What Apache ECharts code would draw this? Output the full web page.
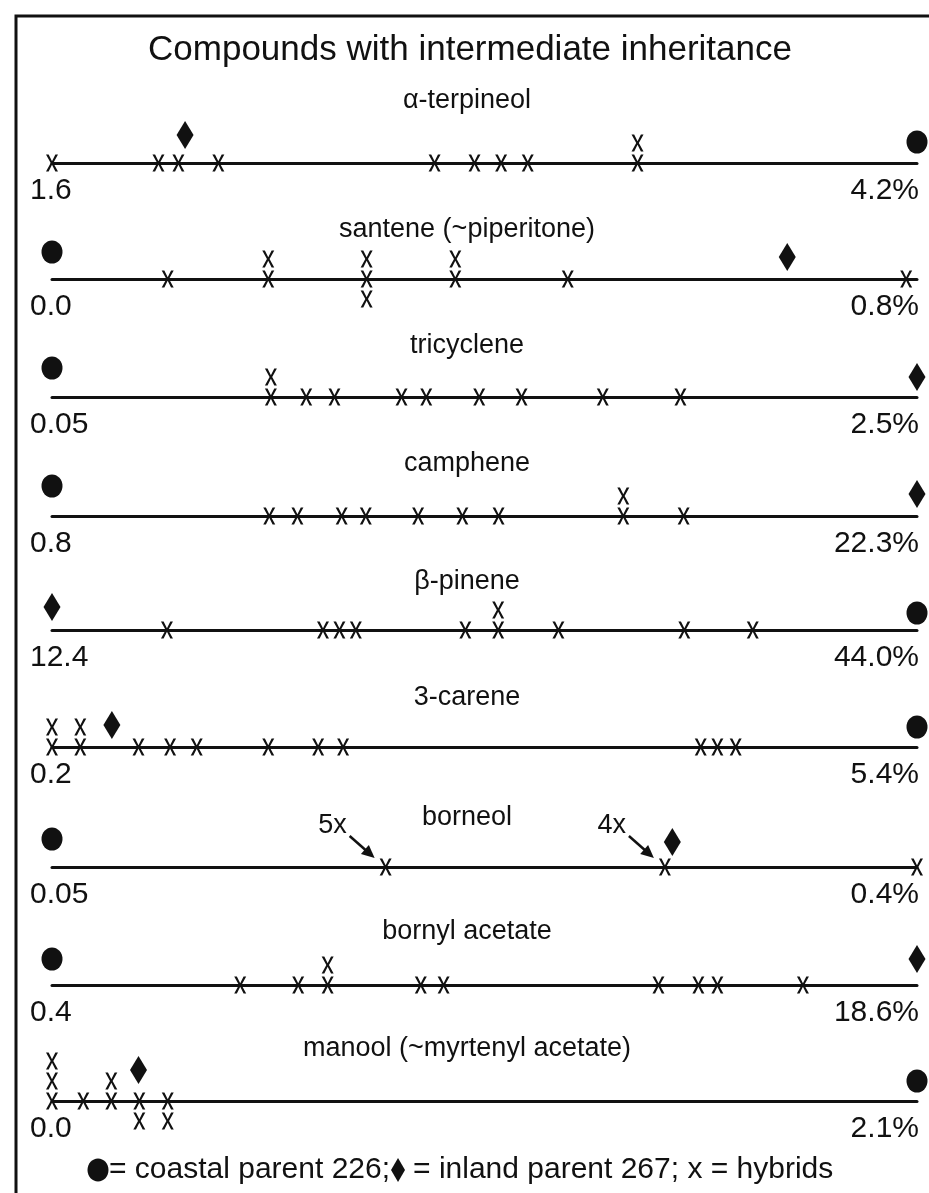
<!DOCTYPE html>
<html lang="en">

<head>
    <meta charset="utf-8">
    <title>intermediate-inheritance</title>
    <script src="https://cdn.jsdelivr.net/npm/echarts@6/dist/echarts.min.js"></script>
    <style>
        html, body { margin: 0; padding: 0; background: #fff; }
        #container { width: 929px; height: 1193px; }
    </style>
</head>

<body>
<div id="container"></div>
<script>
    // one row per compound, top to bottom
    const compounds = ["α-terpineol", "santene (~piperitone)", "tricyclene", "camphene", "β-pinene",
        "3-carene", "borneol", "bornyl acetate", "manool (~myrtenyl acetate)"];
    const axisMin = [1.6, 0.0, 0.05, 0.8, 12.4, 0.2, 0.05, 0.4, 0.0];
    const axisMax = [4.2, 0.8, 2.5, 22.3, 44.0, 5.4, 0.4, 18.6, 2.1];
    const minLabels = ["1.6", "0.0", "0.05", "0.8", "12.4", "0.2", "0.05", "0.4", "0.0"];
    const maxLabels = ["4.2%", "0.8%", "2.5%", "22.3%", "44.0%", "5.4%", "0.4%", "18.6%", "2.1%"];

    // parents: value and height above the line (in stack units)
    const coastalValues = [4.2, 0.0, 0.05, 0.8, 44.0, 5.4, 0.05, 0.4, 2.1];
    const coastalLevels = [1.05, 1.35, 1.45, 1.5, 0.85, 1.0, 1.4, 1.3, 1.0];
    const inlandValues = [2.0, 0.68, 2.5, 22.3, 12.4, 0.56, 0.301, 18.6, 0.21];
    const inlandLevels = [1.4, 1.1, 1.0, 1.1, 1.15, 1.1, 1.25, 1.3, 1.55];

    // hybrids: [value, stack level] (0 = on the line, 1 = one above, -1 = one below)
    const hybrids = [
        [[1.60, 0], [1.92, 0], [1.98, 0], [2.10, 0], [2.75, 0], [2.87, 0], [2.95, 0], [3.03, 0], [3.36, 0], [3.36, 1]],
        [[0.107, 0], [0.200, 0], [0.200, 1], [0.291, 0], [0.291, 1], [0.291, -1], [0.373, 0], [0.373, 1], [0.477, 0], [0.79, 0]],
        [[0.67, 0], [0.67, 1], [0.77, 0], [0.85, 0], [1.04, 0], [1.11, 0], [1.26, 0], [1.38, 0], [1.61, 0], [1.83, 0]],
        [[6.2, 0], [6.9, 0], [8.0, 0], [8.6, 0], [9.9, 0], [11.0, 0], [11.9, 0], [15.0, 0], [15.0, 1], [16.5, 0]],
        [[16.6, 0], [22.3, 0], [22.9, 0], [23.5, 0], [27.5, 0], [28.7, 0], [28.7, 1], [30.9, 0], [35.5, 0], [38.0, 0]],
        [[0.20, 0], [0.20, 1], [0.37, 0], [0.37, 1], [0.72, 0], [0.91, 0], [1.07, 0], [1.50, 0], [1.80, 0], [1.95, 0], [4.10, 0], [4.20, 0], [4.31, 0]],
        [[0.185, 0], [0.298, 0], [0.40, 0]],
        [[4.36, 0], [5.58, 0], [6.20, 0], [6.20, 1], [8.16, 0], [8.64, 0], [13.16, 0], [14.0, 0], [14.4, 0], [16.2, 0]],
        [[0.0, 0], [0.0, 1], [0.0, 2], [0.076, 0], [0.144, 0], [0.144, 1], [0.212, 0], [0.212, -1], [0.281, 0], [0.281, -1]]
    ];

    // borneol: several hybrids share one value
    const borneolNotes = [{value: 0.185, text: "5x"}, {value: 0.298, text: "4x"}];

    // layout
    const lineY = [163, 279, 397, 516, 630, 747, 867, 985, 1101];
    const nameY = [101, 230, 346, 464, 582, 698, 818, 932, 1049];
    const FONT = '"Liberation Sans", Arial, sans-serif';
    const INK = "#111";
    const xMark = "path://M0,0L2.2,0L5,6L7.8,0L10,0L6.1,7.5L10,15L7.8,15L5,9L2.2,15L0,15L3.9,7.5Z";

    function label(text, x, y, size, align) {
        return {type: "text", x: x, y: y, style: {text: text, fontSize: size, fontFamily: FONT,
            fill: INK, textAlign: align, textVerticalAlign: "middle"}};
    }

    const grid = [], xAxis = [], yAxis = [], series = [];
    const graphic = [
        {type: "rect", shape: {x: 16, y: 16, width: 1000, height: 1300},
            style: {fill: "none", stroke: INK, lineWidth: 3}},
        label("Compounds with intermediate inheritance", 470, 50, 35, "center")
    ];

    for (let i = 0; i < compounds.length; i++) {
        grid.push({left: 52, right: 12, top: lineY[i] - 50, height: 100});
        xAxis.push({
            type: "value", gridIndex: i, min: axisMin[i], max: axisMax[i],
            axisLine: {show: true, onZero: true, lineStyle: {color: INK, width: 3}},
            axisTick: {show: false}, axisLabel: {show: false}, splitLine: {show: false}
        });
        yAxis.push({type: "value", gridIndex: i, min: -2.5, max: 2.5, show: false});

        series.push({
            type: "scatter", xAxisIndex: i, yAxisIndex: i, symbol: xMark, symbolSize: [12, 17],
            itemStyle: {color: INK, opacity: 1}, data: hybrids[i], silent: true
        });
        series.push({
            type: "scatter", xAxisIndex: i, yAxisIndex: i, symbol: "circle", symbolSize: [21, 23],
            itemStyle: {color: INK, opacity: 1}, data: [[coastalValues[i], coastalLevels[i]]], silent: true
        });
        series.push({
            type: "scatter", xAxisIndex: i, yAxisIndex: i, symbol: "diamond", symbolSize: [17, 28],
            itemStyle: {color: INK, opacity: 1}, data: [[inlandValues[i], inlandLevels[i]]], silent: true
        });

        graphic.push(label(compounds[i], 467, nameY[i], 27, "center"));
        graphic.push(label(minLabels[i], 30, lineY[i] + 28, 30, "left"));
        graphic.push(label(maxLabels[i], 919, lineY[i] + 28, 30, "right"));
    }

    // key at the bottom, pieces placed one after another
    const keyY = 1170;
    const measure = document.createElement("canvas").getContext("2d");
    measure.font = "30px " + FONT;
    const key1 = "= coastal parent 226;";
    const key2 = "= inland parent 267; x = hybrids";
    const circleX = 98;
    const diamondX = circleX + 11 + measure.measureText(key1).width + 8;
    graphic.push({type: "ellipse", shape: {cx: circleX, cy: keyY, rx: 10.5, ry: 11.5}, style: {fill: INK}});
    graphic.push(label(key1, circleX + 11, keyY, 30, "left"));
    graphic.push({type: "polygon", shape: {points: [[diamondX, keyY - 12], [diamondX + 7, keyY],
        [diamondX, keyY + 12], [diamondX - 7, keyY]]}, style: {fill: INK}});
    graphic.push(label(key2, diamondX + 15, keyY, 30, "left"));

    const option = {
        animation: false,
        backgroundColor: "#fff",
        grid: grid,
        xAxis: xAxis,
        yAxis: yAxis,
        series: series,
        graphic: {elements: graphic}
    };

    const chart = echarts.init(document.getElementById("container"));
    chart.setOption(option);

    // arrows for the borneol counts, anchored on the data points
    const b = compounds.indexOf("borneol");
    borneolNotes.forEach(note => {
        const p = chart.convertToPixel({xAxisIndex: b, yAxisIndex: b}, [note.value, 0]);
        const tip = [p[0] - 11, p[1] - 9];
        const tail = [p[0] - 36, p[1] - 31];
        const dx = tip[0] - tail[0], dy = tip[1] - tail[1];
        const len = Math.sqrt(dx * dx + dy * dy);
        const ux = dx / len, uy = dy / len;
        const head = 13, half = 6;
        const base = [tip[0] - ux * head, tip[1] - uy * head];
        graphic.push({type: "line", shape: {x1: tail[0], y1: tail[1], x2: base[0] + ux * 2, y2: base[1] + uy * 2},
            style: {stroke: INK, lineWidth: 2.5}});
        graphic.push({type: "polygon", shape: {points: [tip,
            [base[0] - uy * half, base[1] + ux * half], [base[0] + uy * half, base[1] - ux * half]]},
            style: {fill: INK}});
        graphic.push(label(note.text, tail[0] - 3, tail[1] - 10, 27, "right"));
    });
    chart.setOption({graphic: {elements: graphic}});
</script>
</body>

</html>
